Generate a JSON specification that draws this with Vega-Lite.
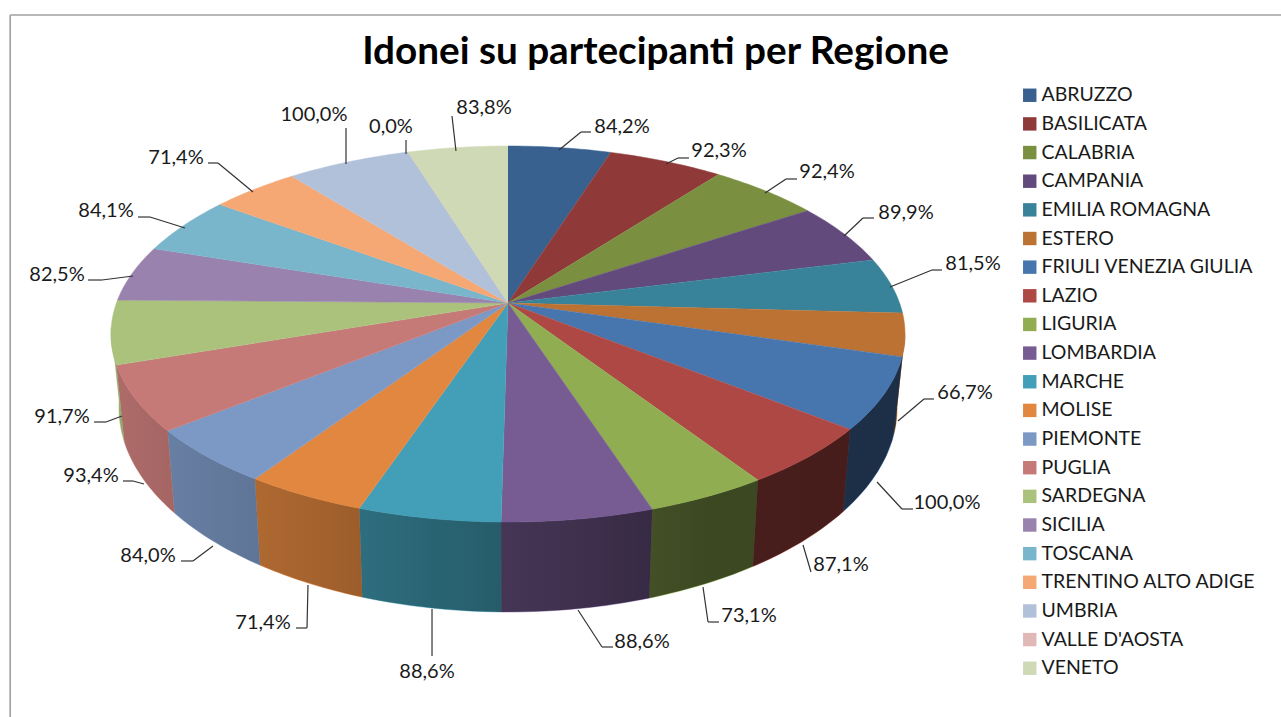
{"$schema":"https://vega.github.io/schema/vega-lite/v6.json","width":1281,"height":717,"padding":0,"autosize":"none","background":"white","title":{"text":"Idonei su partecipanti per Regione","font":"Lato","fontSize":38.7,"fontWeight":"bold","color":"#000000","anchor":"middle","frame":"group","orient":"top","dx":15,"offset":-72},"config":{"view":{"stroke":null},"axis":{"disable":true}},
"datasets":{"regioni":[
{"regione":"ABRUZZO","quota":15,"etichetta":"84,2%","sx":0.1285,"sy":0.9787,"ex":0.1839,"ey":1.0745,"tx":0.2091,"ty":1.0745,"lx":0.2872,"ly":1.1011},
{"regione":"BASILICATA","quota":17,"etichetta":"92,3%","sx":0.398,"sy":0.9043,"ex":0.4282,"ey":0.9362,"tx":0.4559,"ty":0.9362,"lx":0.5315,"ly":0.9734},
{"regione":"CALABRIA","quota":17,"etichetta":"92,4%","sx":0.6474,"sy":0.75,"ex":0.7003,"ey":0.8245,"tx":0.728,"ty":0.8245,"lx":0.8035,"ly":0.8617},
{"regione":"CAMPANIA","quota":17.8,"etichetta":"89,9%","sx":0.8463,"sy":0.5213,"ex":0.8942,"ey":0.617,"tx":0.9219,"ty":0.617,"lx":1.0025,"ly":0.6436},
{"regione":"EMILIA ROMAGNA","quota":16.8,"etichetta":"81,5%","sx":0.9622,"sy":0.25,"ex":1.068,"ey":0.3404,"tx":1.0932,"ty":0.3404,"lx":1.1713,"ly":0.3723},
{"regione":"ESTERO","quota":13.4,"etichetta":"66,7%","sx":0.9824,"sy":-0.4628,"ex":1.0479,"ey":-0.3457,"tx":1.073,"ty":-0.3457,"lx":1.1511,"ly":-0.3138},
{"regione":"FRIULI VENEZIA GIULIA","quota":23.5,"etichetta":"100,0%","sx":0.9295,"sy":-0.7872,"ex":0.9924,"ey":-0.9309,"tx":1.0202,"ty":-0.9309,"lx":1.1058,"ly":-0.8989},
{"regione":"LAZIO","quota":20.5,"etichetta":"87,1%","sx":0.7431,"sy":-1.1223,"ex":0.7632,"ey":-1.266,"tx":0.7632,"ty":-1.266,"lx":0.8388,"ly":-1.2287},
{"regione":"LIGURIA","quota":17.7,"etichetta":"73,1%","sx":0.4912,"sy":-1.3457,"ex":0.5038,"ey":-1.5319,"tx":0.5315,"ty":-1.5319,"lx":0.6071,"ly":-1.5},
{"regione":"LOMBARDIA","quota":22.3,"etichetta":"88,6%","sx":0.1763,"sy":-1.4681,"ex":0.2368,"ey":-1.6649,"tx":0.2645,"ty":-1.6649,"lx":0.3375,"ly":-1.6383},
{"regione":"MARCHE","quota":21,"etichetta":"88,6%","sx":-0.1914,"sy":-1.4628,"ex":-0.1914,"ey":-1.7128,"tx":-0.1914,"ty":-1.7128,"lx":-0.204,"ly":-1.7979},
{"regione":"MOLISE","quota":17.6,"etichetta":"71,4%","sx":-0.5038,"sy":-1.3351,"ex":-0.5063,"ey":-1.5638,"tx":-0.534,"ty":-1.5638,"lx":-0.6171,"ly":-1.5372},
{"regione":"PIEMONTE","quota":19.4,"etichetta":"84,0%","sx":-0.7431,"sy":-1.1277,"ex":-0.7935,"ey":-1.2074,"tx":-0.8237,"ty":-1.2074,"lx":-0.9068,"ly":-1.1809},
{"regione":"PUGLIA","quota":21.5,"etichetta":"93,4%","sx":-0.9169,"sy":-0.7979,"ex":-0.9446,"ey":-0.7819,"tx":-0.9698,"ty":-0.7819,"lx":-1.0504,"ly":-0.7553},
{"regione":"SARDEGNA","quota":19.9,"etichetta":"91,7%","sx":-0.9723,"sy":-0.4362,"ex":-1.0126,"ey":-0.4681,"tx":-1.0428,"ty":-0.4681,"lx":-1.1234,"ly":-0.4415},
{"regione":"SICILIA","quota":16.6,"etichetta":"82,5%","sx":-0.9446,"sy":0.3085,"ex":-1.0227,"ey":0.2872,"tx":-1.0579,"ty":0.2872,"lx":-1.136,"ly":0.3138},
{"regione":"TOSCANA","quota":16.5,"etichetta":"84,1%","sx":-0.8136,"sy":0.5638,"ex":-0.9018,"ey":0.6223,"tx":-0.932,"ty":0.6223,"lx":-1.0126,"ly":0.6543},
{"regione":"TRENTINO ALTO ADIGE","quota":13.5,"etichetta":"71,4%","sx":-0.6423,"sy":0.7553,"ex":-0.7305,"ey":0.9096,"tx":-0.7557,"ty":0.9096,"lx":-0.8363,"ly":0.9362},
{"regione":"UMBRIA","quota":18.4,"etichetta":"100,0%","sx":-0.4081,"sy":0.9043,"ex":-0.4081,"ey":1.0957,"tx":-0.4081,"ty":1.0957,"lx":-0.4887,"ly":1.1649},
{"regione":"VALLE D'AOSTA","quota":0,"etichetta":"0,0%","sx":-0.2569,"sy":0.9574,"ex":-0.2569,"ey":1.0319,"tx":-0.2569,"ty":1.0319,"lx":-0.2947,"ly":1.1011},
{"regione":"VENETO","quota":14.6,"etichetta":"83,8%","sx":-0.131,"sy":0.9734,"ex":-0.1411,"ey":1.1596,"tx":-0.1411,"ty":1.1596,"lx":-0.0605,"ly":1.2021}
]},
"layer":[
{"data":{"values":[{"lato":"sinistra","x0":-1.254,"y0":1.697,"x1":-1.254,"y1":-2.04},{"lato":"alto","x0":-1.254,"y0":1.697,"x1":1.95,"y1":1.697}]},"mark":{"type":"rule","color":"#a0a0a0","strokeWidth":1.6},"encoding":{"x":{"field":"x0","type":"quantitative","scale":{"domain":[-1.2796,1.9471],"nice":false,"zero":false}},"y":{"field":"y0","type":"quantitative","scale":{"domain":[-2.03723,1.7766],"nice":false,"zero":false}},"x2":{"field":"x1"},"y2":{"field":"y1"}}},
{"data":{"name":"regioni"},"transform":[{"stack":"quota","sort":[{"field":"regione","order":"ascending"}],"as":["a0","a1"]},{"filter":"datum.a1>90 && datum.a0<272 && datum.quota>0"},{"calculate":"[0,1,2,3,4,5,6,7,8,9,10,11,12,13,14,15,16,17,18,19,20,21,22,23,24,25,26,27,28,29,30,31,32,33,34,35,36,37,38,39,40,41]","as":"i"},{"flatten":["i"]},{"calculate":"(max(datum.a0,90)+(min(datum.a1,272)-max(datum.a0,90))*(datum.i<=20?datum.i:41-datum.i)/20)*PI/180","as":"t"},{"calculate":"datum.i<=20?sin(datum.t):0.98*sin(datum.t)","as":"px"},{"calculate":"datum.i<=20?cos(datum.t):-0.3936+1.085*cos(datum.t)","as":"py"}],"mark":{"type":"line","filled":true,"strokeWidth":0.5},"encoding":{"x":{"field":"px","type":"quantitative","scale":{"domain":[-1.2796,1.9471],"nice":false,"zero":false}},"y":{"field":"py","type":"quantitative","scale":{"domain":[-2.03723,1.7766],"nice":false,"zero":false}},"order":{"field":"i","type":"quantitative"},"color":{"field":"regione","type":"nominal","scale":{"domain":["ABRUZZO","BASILICATA","CALABRIA","CAMPANIA","EMILIA ROMAGNA","ESTERO","FRIULI VENEZIA GIULIA","LAZIO","LIGURIA","LOMBARDIA","MARCHE","MOLISE","PIEMONTE","PUGLIA","SARDEGNA","SICILIA","TOSCANA","TRENTINO ALTO ADIGE","UMBRIA","VALLE D'AOSTA","VENETO"],"range":["#38618f","#8f3a38","#7a8f40","#624b7c","#38839a","#bb7232","#4775ae","#ae4845","#90ad52","#775b93","#429fb7","#e2873f","#7c98c4","#c67a78","#abc27c","#9983ae","#79b5cb","#f5a774","#b2c1da","#e0b8b8","#cfd9b6"]},"legend":{"orient":"none","legendX":1020,"legendY":85.5,"title":null,"symbolType":"square","symbolSize":180,"symbolStrokeWidth":0,"labelFont":"Lato","labelFontSize":19.5,"labelColor":"#1a1a1a","labelOffset":2,"rowPadding":7.65,"labelLimit":300}},"stroke":{"field":"regione","type":"nominal","legend":null,"scale":{"domain":["ABRUZZO","BASILICATA","CALABRIA","CAMPANIA","EMILIA ROMAGNA","ESTERO","FRIULI VENEZIA GIULIA","LAZIO","LIGURIA","LOMBARDIA","MARCHE","MOLISE","PIEMONTE","PUGLIA","SARDEGNA","SICILIA","TOSCANA","TRENTINO ALTO ADIGE","UMBRIA","VALLE D'AOSTA","VENETO"],"range":["#38618f","#8f3a38","#7a8f40","#624b7c","#38839a","#bb7232","#4775ae","#ae4845","#90ad52","#775b93","#429fb7","#e2873f","#7c98c4","#c67a78","#abc27c","#9983ae","#79b5cb","#f5a774","#b2c1da","#e0b8b8","#cfd9b6"]}}}},
{"data":{"values":[{"parete":"ombra","a0":90,"a1":272}]},"transform":[{"calculate":"[0,1,2,3,4,5,6,7,8,9,10,11,12,13,14,15,16,17,18,19,20,21,22,23,24,25,26,27,28,29,30,31,32,33,34,35,36,37,38,39,40,41,42,43,44,45,46,47,48,49,50,51,52,53,54,55,56,57,58,59,60,61,62,63,64,65,66,67,68,69,70,71,72,73,74,75,76,77,78,79,80,81]","as":"i"},{"flatten":["i"]},{"calculate":"(datum.a0+(datum.a1-datum.a0)*(datum.i<=40?datum.i:81-datum.i)/40)*PI/180","as":"t"},{"calculate":"datum.i<=40?sin(datum.t):0.98*sin(datum.t)","as":"px"},{"calculate":"datum.i<=40?cos(datum.t):-0.3936+1.085*cos(datum.t)","as":"py"}],"mark":{"type":"line","strokeWidth":0,"stroke":null,"fill":{"gradient":"linear","x1":1,"x2":0,"y1":0,"y2":0,"stops":[{"offset":0,"color":"rgba(0,0,0,0.6)"},{"offset":0.26,"color":"rgba(0,0,0,0.58)"},{"offset":0.41,"color":"rgba(0,0,0,0.47)"},{"offset":0.6,"color":"rgba(0,0,0,0.37)"},{"offset":0.765,"color":"rgba(0,0,0,0.26)"},{"offset":0.87,"color":"rgba(0,0,0,0.2)"},{"offset":1,"color":"rgba(0,0,0,0.12)"}]}},"encoding":{"x":{"field":"px","type":"quantitative","scale":{"domain":[-1.2796,1.9471],"nice":false,"zero":false}},"y":{"field":"py","type":"quantitative","scale":{"domain":[-2.03723,1.7766],"nice":false,"zero":false}},"order":{"field":"i","type":"quantitative"}}},
{"data":{"name":"regioni"},"transform":[{"stack":"quota","sort":[{"field":"regione","order":"ascending"}],"as":["a0","a1"]},{"calculate":"[-1,0,1,2,3,4,5,6,7,8,9,10,11,12,13,14,15,16,17,18,19,20]","as":"i"},{"flatten":["i"]},{"calculate":"(datum.a0+(datum.a1-datum.a0)*max(datum.i,0)/20)*PI/180","as":"t"},{"calculate":"datum.i<0?0:sin(datum.t)","as":"px"},{"calculate":"datum.i<0?0.1649:cos(datum.t)","as":"py"}],"mark":{"type":"line","filled":true,"strokeWidth":0.5},"encoding":{"x":{"field":"px","type":"quantitative","scale":{"domain":[-1.2796,1.9471],"nice":false,"zero":false}},"y":{"field":"py","type":"quantitative","scale":{"domain":[-2.03723,1.7766],"nice":false,"zero":false}},"order":{"field":"i","type":"quantitative"},"color":{"field":"regione","type":"nominal","scale":{"domain":["ABRUZZO","BASILICATA","CALABRIA","CAMPANIA","EMILIA ROMAGNA","ESTERO","FRIULI VENEZIA GIULIA","LAZIO","LIGURIA","LOMBARDIA","MARCHE","MOLISE","PIEMONTE","PUGLIA","SARDEGNA","SICILIA","TOSCANA","TRENTINO ALTO ADIGE","UMBRIA","VALLE D'AOSTA","VENETO"],"range":["#38618f","#8f3a38","#7a8f40","#624b7c","#38839a","#bb7232","#4775ae","#ae4845","#90ad52","#775b93","#429fb7","#e2873f","#7c98c4","#c67a78","#abc27c","#9983ae","#79b5cb","#f5a774","#b2c1da","#e0b8b8","#cfd9b6"]},"legend":{"orient":"none","legendX":1020,"legendY":85.5,"title":null,"symbolType":"square","symbolSize":180,"symbolStrokeWidth":0,"labelFont":"Lato","labelFontSize":19.5,"labelColor":"#1a1a1a","labelOffset":2,"rowPadding":7.65,"labelLimit":300}},"stroke":{"field":"regione","type":"nominal","legend":null,"scale":{"domain":["ABRUZZO","BASILICATA","CALABRIA","CAMPANIA","EMILIA ROMAGNA","ESTERO","FRIULI VENEZIA GIULIA","LAZIO","LIGURIA","LOMBARDIA","MARCHE","MOLISE","PIEMONTE","PUGLIA","SARDEGNA","SICILIA","TOSCANA","TRENTINO ALTO ADIGE","UMBRIA","VALLE D'AOSTA","VENETO"],"range":["#38618f","#8f3a38","#7a8f40","#624b7c","#38839a","#bb7232","#4775ae","#ae4845","#90ad52","#775b93","#429fb7","#e2873f","#7c98c4","#c67a78","#abc27c","#9983ae","#79b5cb","#f5a774","#b2c1da","#e0b8b8","#cfd9b6"]}}}},
{"data":{"name":"regioni"},"mark":{"type":"rule","color":"#333333","strokeWidth":1.2},"encoding":{"x":{"field":"sx","type":"quantitative","scale":{"domain":[-1.2796,1.9471],"nice":false,"zero":false}},"y":{"field":"sy","type":"quantitative","scale":{"domain":[-2.03723,1.7766],"nice":false,"zero":false}},"x2":{"field":"ex"},"y2":{"field":"ey"}}},
{"data":{"name":"regioni"},"mark":{"type":"rule","color":"#333333","strokeWidth":1.2},"encoding":{"x":{"field":"ex","type":"quantitative","scale":{"domain":[-1.2796,1.9471],"nice":false,"zero":false}},"y":{"field":"ey","type":"quantitative","scale":{"domain":[-2.03723,1.7766],"nice":false,"zero":false}},"x2":{"field":"tx"},"y2":{"field":"ty"}}},
{"data":{"name":"regioni"},"mark":{"type":"text","font":"Lato","fontSize":20,"color":"#1a1a1a","align":"center","baseline":"middle"},"encoding":{"x":{"field":"lx","type":"quantitative","scale":{"domain":[-1.2796,1.9471],"nice":false,"zero":false}},"y":{"field":"ly","type":"quantitative","scale":{"domain":[-2.03723,1.7766],"nice":false,"zero":false}},"text":{"field":"etichetta","type":"nominal"}}}
],"resolve":{"scale":{"color":"shared","stroke":"shared"}}}
